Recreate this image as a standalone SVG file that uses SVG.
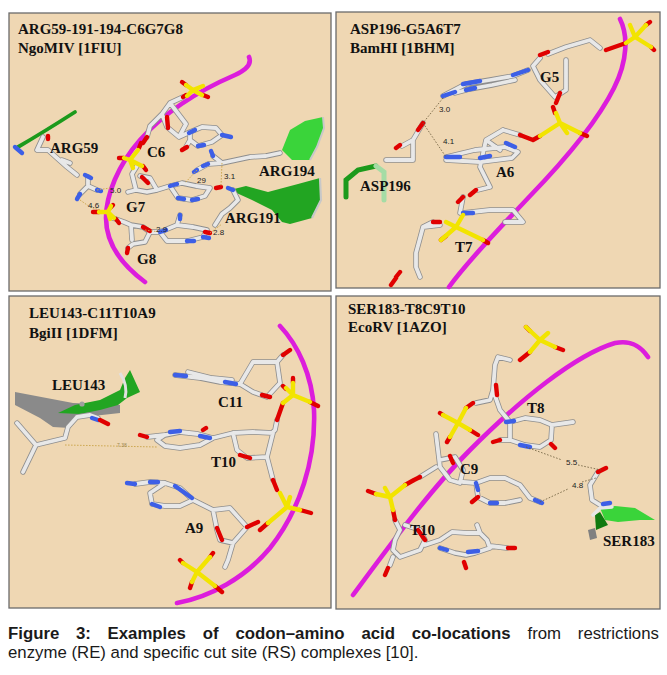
<svg xmlns="http://www.w3.org/2000/svg" xmlns:xlink="http://www.w3.org/1999/xlink" width="667" height="675" viewBox="0 0 667 675">
<style>
.panel{fill:#EFD7B3;stroke:#6b6b6b;stroke-width:1.3}
.o{stroke:#8e8e8e;stroke-width:5.4;fill:none;stroke-linecap:round;stroke-linejoin:round}
.w{stroke:#e8e8e8;stroke-width:3.8;fill:none;stroke-linecap:round;stroke-linejoin:round}
.b{stroke:#3d5fe6;stroke-width:4.4;fill:none;stroke-linecap:round}
.r{stroke:#e00000;stroke-width:4.4;fill:none;stroke-linecap:round}
.y{stroke:#f2e400;stroke-width:4.4;fill:none;stroke-linecap:round}
.m{stroke:#dc1ddc;stroke-width:4.6;fill:none;stroke-linecap:round}
.hb{stroke:#6a5a3a;stroke-width:0.8;stroke-dasharray:1.6 1.6;fill:none}
.hy{stroke:#c9a44a;stroke-width:0.9;stroke-dasharray:1.6 1.4;fill:none}
.t{font-family:"Liberation Serif","Times New Roman",serif;font-weight:bold;font-size:15px;fill:#111}
.n{font-family:"Liberation Sans",Arial,sans-serif;font-size:8px;fill:#222}
.cap{font-family:"Liberation Sans",Arial,sans-serif;font-size:16.8px;fill:#1a1a1a}
.g1{fill:#22a522}
.g2{fill:#3ad43a}
</style>
<defs>
<path id="p1w" d="M43,137 L37,150 L48,150 L67,167 L77,175 M88,177 L88,186 L80,194 M88,186 L97,190 M183,97 L170,103 L162,114 L167,127 L179,137 L186,124 L170,103 M162,114 L150,126 L147,137 M179,137 L190,132 L202,127 L216,128 L222,135 L212,142 L198,146 L190,140 L190,132 M190,140 L186,147 M280,153 L266,156 L250,157 L236,160 L222,163 L213,156 M222,163 L208,164 L197,170 M137,166 L132,174 L136,190 L147,192 L157,190 L150,178 L140,176 M136,190 L128,192 M157,190 L170,186 L182,183 L196,186 L210,188 L205,196 L192,200 L178,198 L170,186 M233,190 L238,200 L230,208 L222,214 L215,225 M110,217 L124,222 L131,225 L143,227 L150,232 L145,242 L133,244 L128,248 M131,225 L132,240 M150,232 L160,232 L177,225 L193,227 L207,230 L203,237 L187,241 L167,241 L160,232 M177,225 L180,215 M62,160 L70,163"/>
<path id="p2w" d="M600,48 L590,40 L566,47 L548,54 M540,58 L533,66 L540,80 L555,97 L566,90 L566,60 M443,96 L466,84 L490,80 L513,76 L528,70 M455,93 L470,89 L492,85 L515,80 M413,140 L413,160 L386,160 M413,140 L423,123 M413,140 L402,146 M503,130 L486,140 L480,167 L490,187 L478,190 M486,140 L500,150 M446,157 L475,150 L505,147 L518,152 L512,158 L480,162 L446,160 M503,130 L520,135 M463,197 L460,213 M463,213 L490,210 L513,210 L523,222 L505,222 M433,222 L423,227 L416,253 L416,267 L420,277 M423,227 L440,225"/>
<path id="p3w" d="M77,417 L68,427 L65,438 L36,445 L23,472 M36,445 L17,423 M77,417 L90,415 L98,418 M175,375 L200,378 L220,382 L240,384 M188,372 L212,378 L232,380 M240,384 L253,362 L277,362 L280,383 L267,397 L253,392 L240,384 M277,362 L283,355 M277,420 L275,430 L272,433 M147,437 L165,435 L180,432 L198,434 L213,438 L200,445 L180,448 L165,446 L157,440 L165,435 M213,438 L233,433 L253,432 L273,433 L267,457 L247,458 L237,450 L233,433 M267,457 L273,480 M135,484 L150,482 L165,483 L180,488 L193,500 L180,506 L165,506 L152,504 L150,493 L165,483 M193,500 L213,510 L230,508 L247,527 L233,543 L220,540 L217,530 L213,510 M233,543 L228,560 L225,567"/>
<path id="p4w" d="M510,360 L498,357 L495,365 L493,390 L490,400 L476,403 M493,390 L500,410 L510,422 M510,422 L525,418 L540,420 L552,425 L573,422 M552,425 L551,440 L540,447 L525,445 L510,440 L510,422 M500,440 L510,440 M436,434 L440,467 L450,480 L460,483 L463,470 L455,457 L440,460 M463,482 L476,483 L490,478 L505,478 L520,485 L530,498 L540,502 M476,483 L478,497 L490,503 L505,503 L520,500 M420,477 L436,467 M395,520 L400,530 L395,540 L393,550 L400,557 L420,550 L425,540 L420,530 L405,525 M393,557 L390,565 M425,545 L440,540 L452,532 L467,533 L480,533 L487,540 L490,548 L475,553 L466,555 L455,553 L440,548 M480,533 L477,525 M490,546 L507,548 M598,472 L590,485 L592,500 L600,505"/>
</defs>
<rect x="0" y="0" width="667" height="675" fill="#ffffff"/>

<g id="panel1">
<rect class="panel" x="9" y="13" width="322" height="278"/>
<path class="m" d="M249,57 C252,64 246,70 235,75 C200,90 165,112 140,140 C118,165 106,195 106,218 C106,240 118,262 145,282"/>
<path d="M18,147 C30,140 50,128 75,112" stroke="#1c9a1c" stroke-width="3.8" fill="none" stroke-linecap="round"/>
<path class="g2" d="M282,150 L290,130 L305,121 L323,117 L324,128 L317,147 L310,160 L292,160 Z"/>
<path d="M323,117 L324,128 L317,147 L310,160" stroke="#c8c8c8" stroke-width="2" fill="none"/>
<path class="g1" d="M230,190 L246,186 L268,192 L298,184 L320,178 L321,200 L312,218 L290,224 L282,222 L272,210 L252,200 Z"/>
<path d="M320,178 L321,200 L312,218" stroke="#c8c8c8" stroke-width="2.2" fill="none"/>
<use xlink:href="#p1w" class="o"/>
<use xlink:href="#p1w" class="w"/>
<path class="b" d="M15,147 L22,153 M85,175 L91,178 M80,194 L77,199 M97,190 L101,191 M189,133 L195,130 M198,146 L204,145 M222,135 L231,137 M213,156 L211,151 M197,170 L194,172 M208,164 L203,166 M170,186 L177,184 M178,198 L184,199 M192,200 L198,199 M233,190 L228,188 M160,232 L166,230 M187,241 L194,241 M180,215 L180,219 M203,237 L209,238"/>
<path class="r" d="M182,82 L186,85 M203,95 L208,97 M183,97 L186,95 M167,117 L168,128 M147,137 L143,143 M119,158 L124,158 M141,143 L139,148 M143,166 L146,170 M142,177 L148,183 M216,188 L221,187 M93,212 L99,212 M113,205 L110,208 M116,219 L119,223 M143,227 L150,231 M128,248 L127,253 M182,150 L187,147 M205,232 L210,233 M48,136 L48,139"/>
<path class="y" d="M193,90 L186,85 M193,90 L203,86 M193,90 L202,95 M193,90 L187,96 M130,160 L124,158 M130,160 L138,150 M130,160 L142,166 M130,160 L133,168 M108,212 L99,212 M108,212 L111,206 M108,212 L114,218 M108,212 L110,219"/>
<path class="hy" d="M97,190 L110,188 M80,200 L90,207 L100,210 M197,170 L185,183 M222,163 L221,186 M145,230 L160,232 M210,233 L222,224"/>
<text class="n" x="110" y="193">5.0</text>
<text class="n" x="88" y="208">4.6</text>
<text class="n" x="197" y="183">29</text>
<text class="n" x="224" y="179">3.1</text>
<text class="n" x="156" y="232">2.9</text>
<text class="n" x="213" y="235">2.8</text>
<text class="t" x="18" y="34">ARG59-191-194-C6G7G8</text>
<text class="t" x="18" y="53">NgoMIV [1FIU]</text>
<text class="t" x="50" y="153">ARG59</text>
<text class="t" x="147" y="157">C6</text>
<text class="t" x="259" y="176">ARG194</text>
<text class="t" x="126" y="212">G7</text>
<text class="t" x="225" y="223">ARG191</text>
<text class="t" x="137" y="264">G8</text>
</g>

<g id="panel2">
<rect class="panel" x="336" y="12" width="324" height="276"/>
<path class="m" d="M620,19 C628,35 628,60 614,88 C596,124 560,165 530,196 C500,228 470,258 449,287"/>
<path d="M346,197 L346,180 L358,170 L376,166" stroke="#1c9a1c" stroke-width="5" fill="none" stroke-linecap="round"/>
<path d="M376,166 L384,172 L384,200" stroke="#a5dca5" stroke-width="5" fill="none" stroke-linecap="round"/>
<use xlink:href="#p2w" class="o"/>
<use xlink:href="#p2w" class="w"/>
<path class="b" d="M443,96 L455,92 M463,84 L480,81 M466,90 L475,88 M513,75 L528,70 M446,157 L460,157 M506,143 L515,147 M480,158 L490,156 M463,213 L473,213"/>
<path class="r" d="M540,55 L548,52 M560,93 L556,103 M553,107 L555,113 M580,133 L587,136 M533,140 L540,136 M423,123 L418,130 M400,145 L396,148 M476,190 L470,195 M463,197 L458,202 M433,222 L440,222 M483,240 L488,243 M441,240 L446,236 M396,277 L400,272 M391,285 L396,278 M606,50 L626,43 M646,25 L650,22 M651,47 L654,50 M520,135 L533,140"/>
<path class="y" d="M635,37 L626,43 M635,37 L646,25 M635,37 L651,47 M635,37 L630,25 M560,123 L556,113 M560,123 L580,133 M560,123 L540,136 M560,123 L567,133 M456,227 L441,240 M456,227 L446,222 M456,227 L483,240 M456,227 L463,215"/>
<path class="hb" d="M443,98 L423,123 M423,123 L446,157"/>
<text class="n" x="439" y="112">3.0</text>
<text class="n" x="443" y="144">4.1</text>
<text class="t" x="350" y="34">ASP196-G5A6T7</text>
<text class="t" x="350" y="53">BamHI [1BHM]</text>
<text class="t" x="540" y="82">G5</text>
<text class="t" x="496" y="177">A6</text>
<text class="t" x="360" y="191">ASP196</text>
<text class="t" x="455" y="252">T7</text>
</g>

<g id="panel3">
<rect class="panel" x="9" y="296" width="322" height="312"/>
<path class="m" d="M280,326 C298,345 312,375 314,410 C316,460 300,510 270,548 C245,578 210,597 177,603"/>
<path d="M15,392 L73,403 L120,405 L120,413 L75,418 L70,428 L53,427 L40,418 L15,405 Z" fill="#8a8a8a"/>
<path class="g1" d="M58,413 L75,405 L100,400 L120,390 L125,378 L130,370 L140,392 L127,398 L118,405 L100,410 L80,414 Z"/>
<path d="M120,373 C126,382 127,390 125,398" stroke="#e0e0e0" stroke-width="3" fill="none"/>
<circle cx="82" cy="404" r="2.6" fill="#a0a0a0"/>
<use xlink:href="#p3w" class="o"/>
<use xlink:href="#p3w" class="w"/>
<path class="b" d="M92,418 L98,420 M175,375 L186,376 M225,382 L236,384 M170,432 L180,431 M200,436 L210,438 M127,483 L135,484 M150,482 L158,482 M175,486 L192,498 M152,504 L160,507"/>
<path class="r" d="M100,420 L108,424 M262,395 L270,397 M283,355 L290,350 M283,386 L286,389 M310,402 L318,406 M293,383 L293,378 M283,403 L277,420 M140,435 L147,437 M203,430 L206,428 M240,455 L250,458 M273,480 L277,490 M300,510 L311,513 M268,523 L260,530 M217,528 L222,540 M247,527 L258,522 M183,563 L180,560 M210,557 L213,553 M215,586 L222,592 M192,582 L190,588"/>
<path class="y" d="M293,395 L286,388 M293,395 L310,402 M293,395 L293,383 M293,395 L283,403 M287,507 L280,493 M287,507 L300,510 M287,507 L268,523 M287,507 L290,497 M197,572 L183,563 M197,572 L210,557 M197,572 L215,586 M197,572 L192,582"/>
<path class="hy" d="M65,445 L157,447"/>
<text class="n" x="117" y="447" style="font-size:5px;fill:#9a8550">7.38</text>
<text class="t" x="29" y="318">LEU143-C11T10A9</text>
<text class="t" x="29" y="338">BgiII [1DFM]</text>
<text class="t" x="52" y="390">LEU143</text>
<text class="t" x="218" y="407">C11</text>
<text class="t" x="211" y="467">T10</text>
<text class="t" x="185" y="533">A9</text>
</g>

<g id="panel4">
<rect class="panel" x="336" y="296" width="324" height="313"/>
<path class="m" d="M353,595 C390,545 430,490 470,450 C520,400 575,355 615,343 C630,340 640,345 648,357"/>
<use xlink:href="#p4w" class="o"/>
<use xlink:href="#p4w" class="w"/>
<path class="g2" d="M600,508 L615,506 L635,508 L655,520 L640,520 L618,522 L605,520 Z"/>
<path d="M595,515 L600,512 L608,525 L596,530 Z" fill="#107a10"/>
<path d="M588,530 L595,528 L597,538 L590,540 Z" fill="#808080"/>
<path d="M593,515 L600,508 L612,507" stroke="#e6e6e6" stroke-width="3.4" fill="none" stroke-linecap="round"/>
<path class="b" d="M506,422 L514,421 M520,445 L530,447 M476,483 L478,490 M490,503 L497,503 M535,500 L542,503 M440,548 L447,550 M468,552 L478,551 M603,504 L610,503"/>
<path class="r" d="M526,327 L530,331 M555,347 L563,350 M530,352 L520,360 M496,385 L497,395 M551,444 L555,448 M493,442 L500,440 M443,415 L440,413 M470,430 L478,435 M450,437 L447,442 M466,408 L473,403 M450,456 L453,463 M478,497 L472,502 M368,491 L376,494 M405,485 L414,480 M414,480 L420,477 M393,510 L395,520 M418,530 L425,540 M388,568 L385,575 M508,548 L515,548 M464,562 L466,568 M598,472 L606,468"/>
<path class="y" d="M540,340 L526,327 M540,340 L555,347 M540,340 L548,333 M540,340 L530,352 M458,423 L443,415 M458,423 L470,430 M458,423 L450,437 M458,423 L466,408 M390,497 L376,494 M390,497 L405,485 M390,497 L393,510 M390,497 L385,488"/>
<path class="hb" d="M526,447 L562,460 M578,465 L601,470 M540,502 L568,489 M582,482 L596,478"/>
<text class="n" x="566" y="465">5.5</text>
<text class="n" x="572" y="488">4.8</text>
<text class="t" x="348" y="314">SER183-T8C9T10</text>
<text class="t" x="348" y="332">EcoRV [1AZO]</text>
<text class="t" x="527" y="413">T8</text>
<text class="t" x="460" y="474">C9</text>
<text class="t" x="410" y="535">T10</text>
<text class="t" x="603" y="546">SER183</text>
</g>

<g id="caption">
<text class="cap" y="639"><tspan font-weight="bold" x="8">Figure</tspan><tspan font-weight="bold" x="76">3:</tspan><tspan font-weight="bold" x="107.6">Examples</tspan><tspan font-weight="bold" x="202.8">of</tspan><tspan font-weight="bold" x="235.4">codon–amino</tspan><tspan font-weight="bold" x="361.4">acid</tspan><tspan font-weight="bold" x="411.7">co-locations</tspan><tspan x="527.5">from</tspan><tspan x="577.8">restrictions</tspan></text>
<text class="cap" x="8" y="658">enzyme (RE) and specific cut site (RS) complexes [10].</text>
</g>
</svg>
